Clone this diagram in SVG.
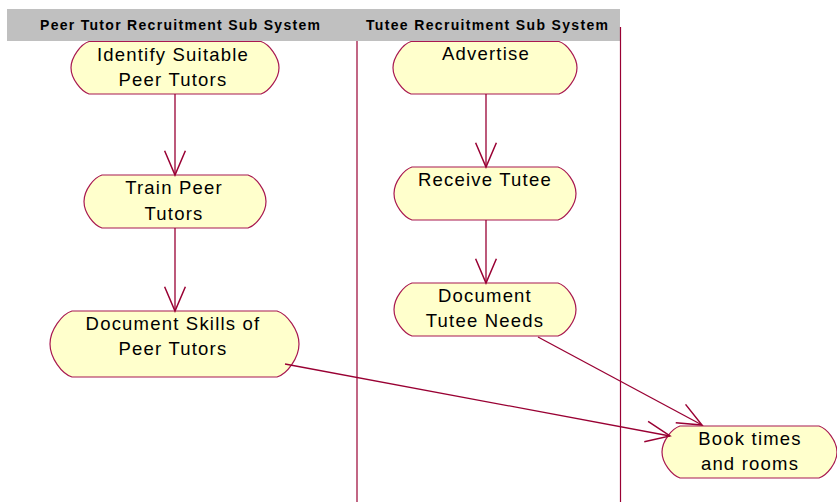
<svg xmlns="http://www.w3.org/2000/svg" width="837" height="502" viewBox="0 0 837 502">
  <defs>
    <style>
      .lane { stroke: #990033; stroke-width: 1.2; fill: none; }
      .hdr { fill: #C0C0C0; }
      .hdrtxt { font-family: "Liberation Sans", Arial, sans-serif; font-size: 14px; font-weight: bold; fill: #000; }
      .act { fill: #FFFFCC; stroke: #A81850; stroke-width: 1.2; }
      .lbl { font-family: "Liberation Sans", Arial, sans-serif; font-size: 18.5px; fill: #000; text-anchor: middle; letter-spacing: 1.2px; }
      .flow { stroke: #990033; stroke-width: 1.3; fill: none; marker-end: url(#open); }
    </style>
    <marker id="open" markerUnits="userSpaceOnUse" markerWidth="30" markerHeight="30" refX="0" refY="0" viewBox="-24 -12 26 24" orient="auto" overflow="visible">
      <path d="M-21,-9 L0,0 L-21,9" fill="none" stroke="#990033" stroke-width="1.3"/>
    </marker>
  </defs>

  <rect width="837" height="502" fill="#FFFFFF"/>

  <!-- swimlane header and dividers -->
  <g id="swimlanes">
    <rect class="hdr" x="7" y="9" width="613" height="32"/>
    <text class="hdrtxt" x="40" y="29.5" textLength="280" lengthAdjust="spacing">Peer Tutor Recruitment Sub System</text>
    <text class="hdrtxt" x="366" y="29.5" textLength="242" lengthAdjust="spacing">Tutee Recruitment Sub System</text>
    <line class="lane" x1="357" y1="41" x2="357" y2="502"/>
    <line class="lane" x1="620.5" y1="27" x2="620.5" y2="502"/>
  </g>

  <!-- activities: flat top and bottom, rounded bulging ends -->
  <g id="identify">
    <path class="act" d="M89,41.5 H261 C269,44 279,57 279,67.75 C279,78.5 269,91.5 261,94 H89 C81,91.5 71,78.5 71,67.75 C71,57 81,44 89,41.5 Z"/>
    <text class="lbl" x="173" y="60.5">Identify Suitable</text>
    <text class="lbl" x="173" y="86">Peer Tutors</text>
  </g>

  <g id="train">
    <path class="act" d="M102,175 H248 C256,177.5 266,190 266,201.5 C266,213 256,225.5 248,228 H102 C94,225.5 84,213 84,201.5 C84,190 94,177.5 102,175 Z"/>
    <text class="lbl" x="174" y="194">Train Peer</text>
    <text class="lbl" x="174" y="220">Tutors</text>
  </g>

  <g id="docskills">
    <path class="act" d="M72,311 H277 C287,314 299,330 299,344 C299,358 287,374 277,377 H72 C62,374 50,358 50,344 C50,330 62,314 72,311 Z"/>
    <text class="lbl" x="173" y="330">Document Skills of</text>
    <text class="lbl" x="173" y="355">Peer Tutors</text>
  </g>

  <g id="advertise">
    <path class="act" d="M411,41.5 H559 C567,44 577,57 577,67.75 C577,78.5 567,91.5 559,94 H411 C403,91.5 393,78.5 393,67.75 C393,57 403,44 411,41.5 Z"/>
    <text class="lbl" x="486" y="60">Advertise</text>
  </g>

  <g id="receive">
    <path class="act" d="M412,167 H558 C566,169.5 576,182 576,193.5 C576,205 566,217.5 558,220 H412 C404,217.5 394,205 394,193.5 C394,182 404,169.5 412,167 Z"/>
    <text class="lbl" x="485" y="186">Receive Tutee</text>
  </g>

  <g id="docneeds">
    <path class="act" d="M412,283 H558 C566,285.5 576,298 576,309.5 C576,321 566,333.5 558,336 H412 C404,333.5 394,321 394,309.5 C394,298 404,285.5 412,283 Z"/>
    <text class="lbl" x="485" y="302">Document</text>
    <text class="lbl" x="485" y="327">Tutee Needs</text>
  </g>

  <g id="book">
    <path class="act" d="M680,426 H819 C827,428.5 837,441 837,452 C837,463 827,475.5 819,478 H680 C672,475.5 662,463 662,452 C662,441 672,428.5 680,426 Z"/>
    <text class="lbl" x="750" y="445">Book times</text>
    <text class="lbl" x="750" y="470">and rooms</text>
  </g>

  <!-- transitions -->
  <g id="connectors">
    <line class="flow" x1="175" y1="94" x2="175" y2="175"/>
    <line class="flow" x1="175" y1="228" x2="175" y2="311"/>
    <line class="flow" x1="486" y1="94" x2="486" y2="167"/>
    <line class="flow" x1="486" y1="220" x2="486" y2="283"/>
    <line class="flow" x1="538" y1="337" x2="702" y2="425"/>
    <line class="flow" x1="285" y1="364" x2="670" y2="436"/>
  </g>
</svg>
